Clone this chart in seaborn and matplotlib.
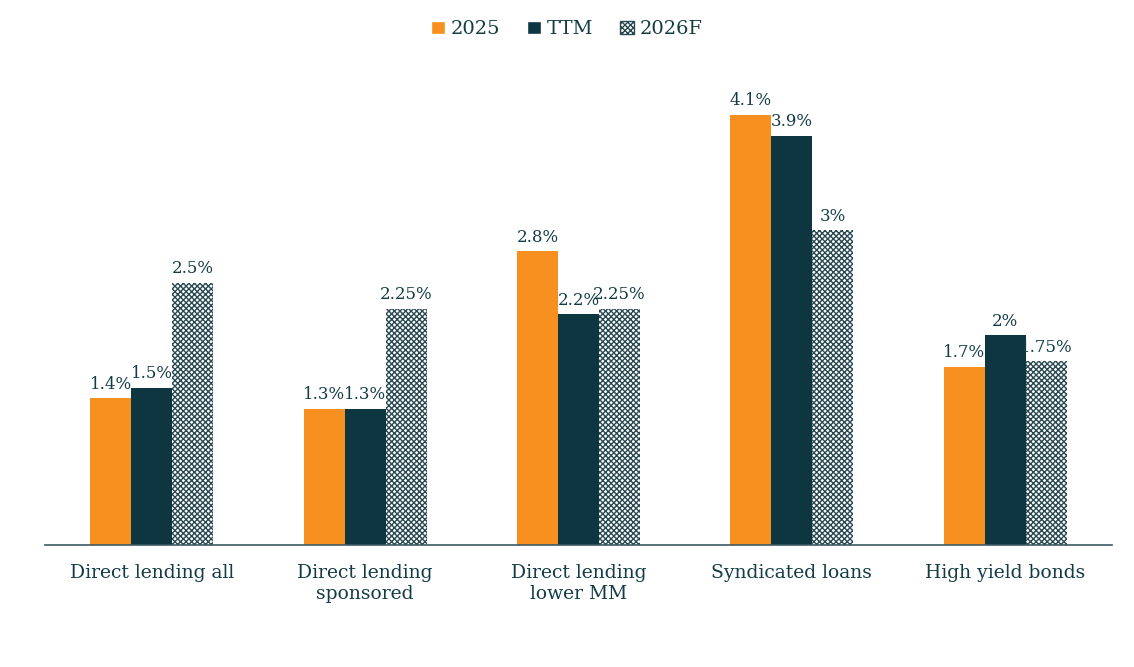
import pandas as pd
import numpy as np
import matplotlib
matplotlib.use("Agg")
import matplotlib.pyplot as plt
import seaborn as sns

# data
categories = ["Direct lending all", "Direct lending\nsponsored", "Direct lending\nlower MM",
              "Syndicated loans", "High yield bonds"]
series = ["2025", "TTM", "2026F"]
vals_2025 = [1.4, 1.3, 2.8, 4.1, 1.7]
vals_ttm = [1.5, 1.3, 2.2, 3.9, 2.0]
vals_2026f = [2.5, 2.25, 2.25, 3.0, 1.75]

orange = "#F7901E"
teal = "#0D3640"
textc = "#143c46"

rows = []
for s, vals in zip(series, [vals_2025, vals_ttm, vals_2026f]):
    for c, v in zip(categories, vals):
        rows.append({"category": c, "series": s, "value": v})
df = pd.DataFrame(rows)

sns.set_theme(style="white")
plt.rcParams["font.family"] = ["DejaVu Serif"]
plt.rcParams["hatch.linewidth"] = 1.0
plt.rcParams["hatch.color"] = "#2a4a53"

fig = plt.figure(figsize=(11.34, 6.67), dpi=100)
ax = fig.add_axes([0.0397, 0.1829, 0.9409, 0.7077])

sns.barplot(data=df, x="category", y="value", hue="series",
            palette=[orange, teal, "white"], width=0.576, saturation=1,
            gap=0, ax=ax, legend=True)

# hatch the forecast bars
for bar in ax.containers[2]:
    bar.set_hatch("xxxxxx")
    bar.set_edgecolor("#2a4a53")
    bar.set_linewidth(0)
for cont in ax.containers[:2]:
    for bar in cont:
        bar.set_linewidth(0)

for cont, vals in zip(ax.containers, [vals_2025, vals_ttm, vals_2026f]):
    labels = [("%g" % v) + "%" for v in vals]
    ax.bar_label(cont, labels=labels, padding=4, fontsize=12, color=textc)

ax.set_ylim(0, 4.5)
ax.set_xlim(-0.5, 4.5)
ax.set_xlabel("")
ax.set_ylabel("")
ax.set_yticks([])
ax.tick_params(axis="x", labelsize=13.5, colors=textc, length=0, pad=14)
for sp in ["top", "right", "left"]:
    ax.spines[sp].set_visible(False)
ax.spines["bottom"].set_color("#3d5a62")
ax.spines["bottom"].set_linewidth(1.2)

handles, labs = ax.get_legend_handles_labels()
handles[2].set_hatch("xxxxxx")
handles[2].set_edgecolor("#2a4a53")
ax.get_legend().remove()
leg = fig.legend(handles, labs, loc="center", bbox_to_anchor=(0.5, 0.956),
                 ncol=3, frameon=False, fontsize=14, handlelength=0.7, handleheight=0.7,
                 handletextpad=0.3, columnspacing=1.4)
for t in leg.get_texts():
    t.set_color(textc)

fig.savefig("out.png", dpi=100, facecolor="white")
